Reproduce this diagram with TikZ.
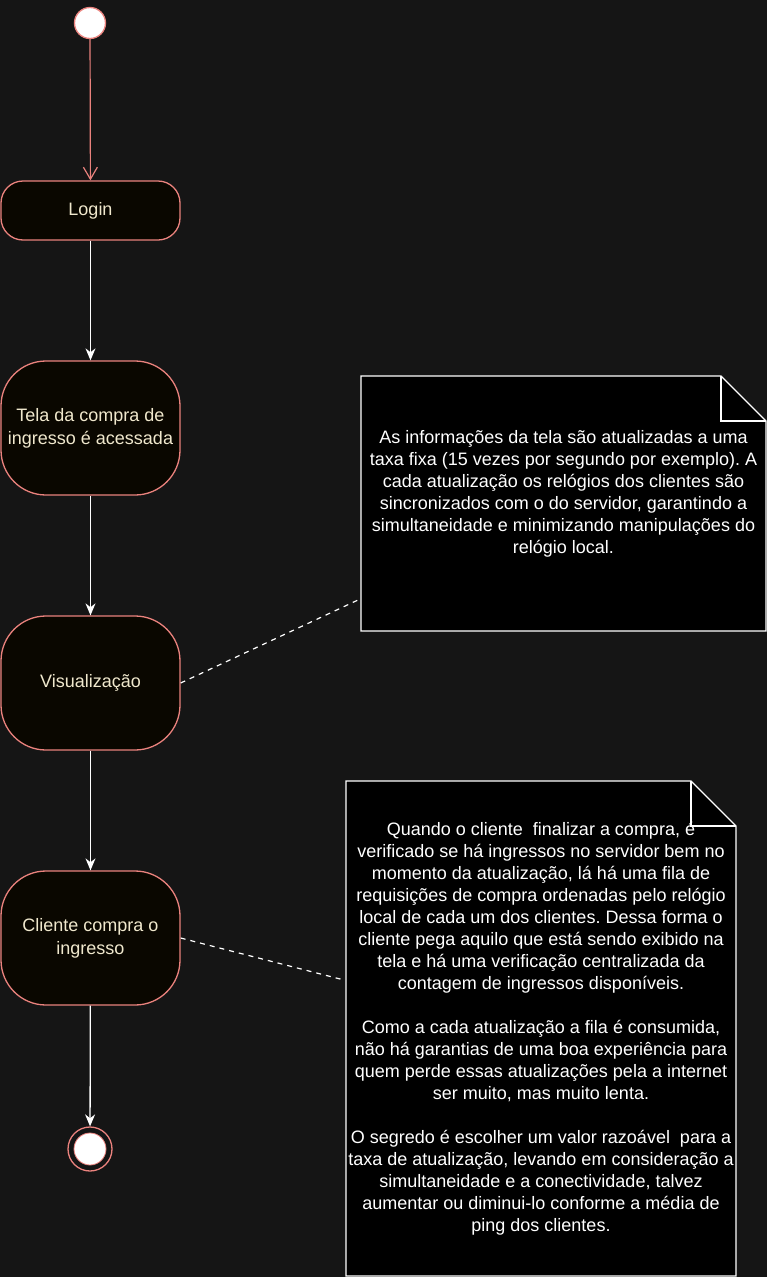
\documentclass[tikz,border=0pt]{standalone}
\usepackage{fontspec}
\setmainfont{Liberation Sans}
\frenchspacing
\usetikzlibrary{arrows.meta}
\definecolor{bg}{RGB}{21,21,21}
\definecolor{nfill}{RGB}{10,7,0}
\definecolor{nstroke}{RGB}{234,130,125}
\definecolor{ntext}{RGB}{240,232,205}
\begin{document}
\begin{tikzpicture}[x=1pt,y=-1pt,
  act/.style={draw=nstroke,fill=nfill,line width=1.3pt,text=ntext,
    minimum width=179pt,align=center,font=\fontsize{18}{23}\selectfont,inner sep=0pt},
  flow/.style={draw=white,line width=1.3pt,-{Stealth[length=12pt,width=10pt]}},
  notetxt/.style={text=white,align=center,font=\fontsize{18}{22}\selectfont,inner sep=0pt},
  link/.style={draw=white,line width=1.2pt,dash pattern=on 5pt off 5pt}]
\fill[bg] (0,0) rectangle (767,1277);
\useasboundingbox (0,0) rectangle (767,1277);
% start
\node[circle,draw=nstroke,fill=white,line width=1.3pt,minimum size=31pt,inner sep=0pt] (start) at (90,23) {};
% activities
\node[act,minimum height=59pt,rounded corners=22pt] (login) at (90.5,210.5) {Login};
\node[act,minimum height=134pt,rounded corners=45pt] (tela) at (90.5,428) {Tela da compra de\\ingresso é acessada};
\node[act,minimum height=134pt,rounded corners=45pt] (vis) at (90.5,683) {Visualização};
\node[act,minimum height=134pt,rounded corners=45pt] (cli) at (90.5,938) {Cliente compra o\\ingresso};
% end
\node[circle,draw=nstroke,fill=none,line width=1.3pt,minimum size=44pt,inner sep=0pt] (endo) at (90,1149) {};
\node[circle,fill=white,draw=nstroke,line width=0.8pt,minimum size=32pt,inner sep=0pt] (endi) at (90,1149) {};
% arrows
\draw[draw=nstroke,line width=1.2pt,-{Straight Barb[length=12pt,width=14pt,line width=1.2pt]}] (start) -- (login);
\draw[flow] (login) -- (tela);
\draw[flow] (tela) -- (vis);
\draw[flow] (vis) -- (cli);
\draw[flow] (cli) -- (endo);
% note 1
\draw[white,fill=black,line width=1.3pt] (361,376) -- (721,376) -- (766,421) -- (766,631) -- (361,631) -- cycle;
\draw[white,line width=1.3pt] (721,376) -- (721,421) -- (766,421);
\node[notetxt] (n1) at (563.5,494) {As informações da tela são atualizadas a uma\\taxa fixa (15 vezes por segundo por exemplo). A\\cada atualização os relógios dos clientes são\\sincronizados com o do servidor, garantindo a\\simultaneidade e minimizando manipulações do\\relógio local.};
\coordinate (n1a) at (358,600);
% note 2
\draw[white,fill=black,line width=1.3pt] (346,781) -- (691,781) -- (736,826) -- (736,1276) -- (346,1276) -- cycle;
\draw[white,line width=1.3pt] (691,781) -- (691,826) -- (736,826);
\node[notetxt] (n2) at (541,1028.5) {Quando o cliente\ \ finalizar a compra, é\\verificado se há ingressos no servidor bem no\\momento da atualização, lá há uma fila de\\requisições de compra ordenadas pelo relógio\\local de cada um dos clientes. Dessa forma o\\cliente pega aquilo que está sendo exibido na\\tela e há uma verificação centralizada da\\contagem de ingressos disponíveis.\\[22pt]Como a cada atualização a fila é consumida,\\não há garantias de uma boa experiência para\\quem perde essas atualizações pela a internet\\ser muito, mas muito lenta.\\[22pt]O segredo é escolher um valor razoável\ \ para a\\taxa de atualização, levando em consideração a\\simultaneidade e a conectividade, talvez\\aumentar ou diminui-lo conforme a média de\\ping dos clientes.};
\coordinate (n2a) at (344,980);
% links
\draw[link] (vis.east) -- (n1a);
\draw[link] (cli.east) -- (n2a);
\end{tikzpicture}
\end{document}
